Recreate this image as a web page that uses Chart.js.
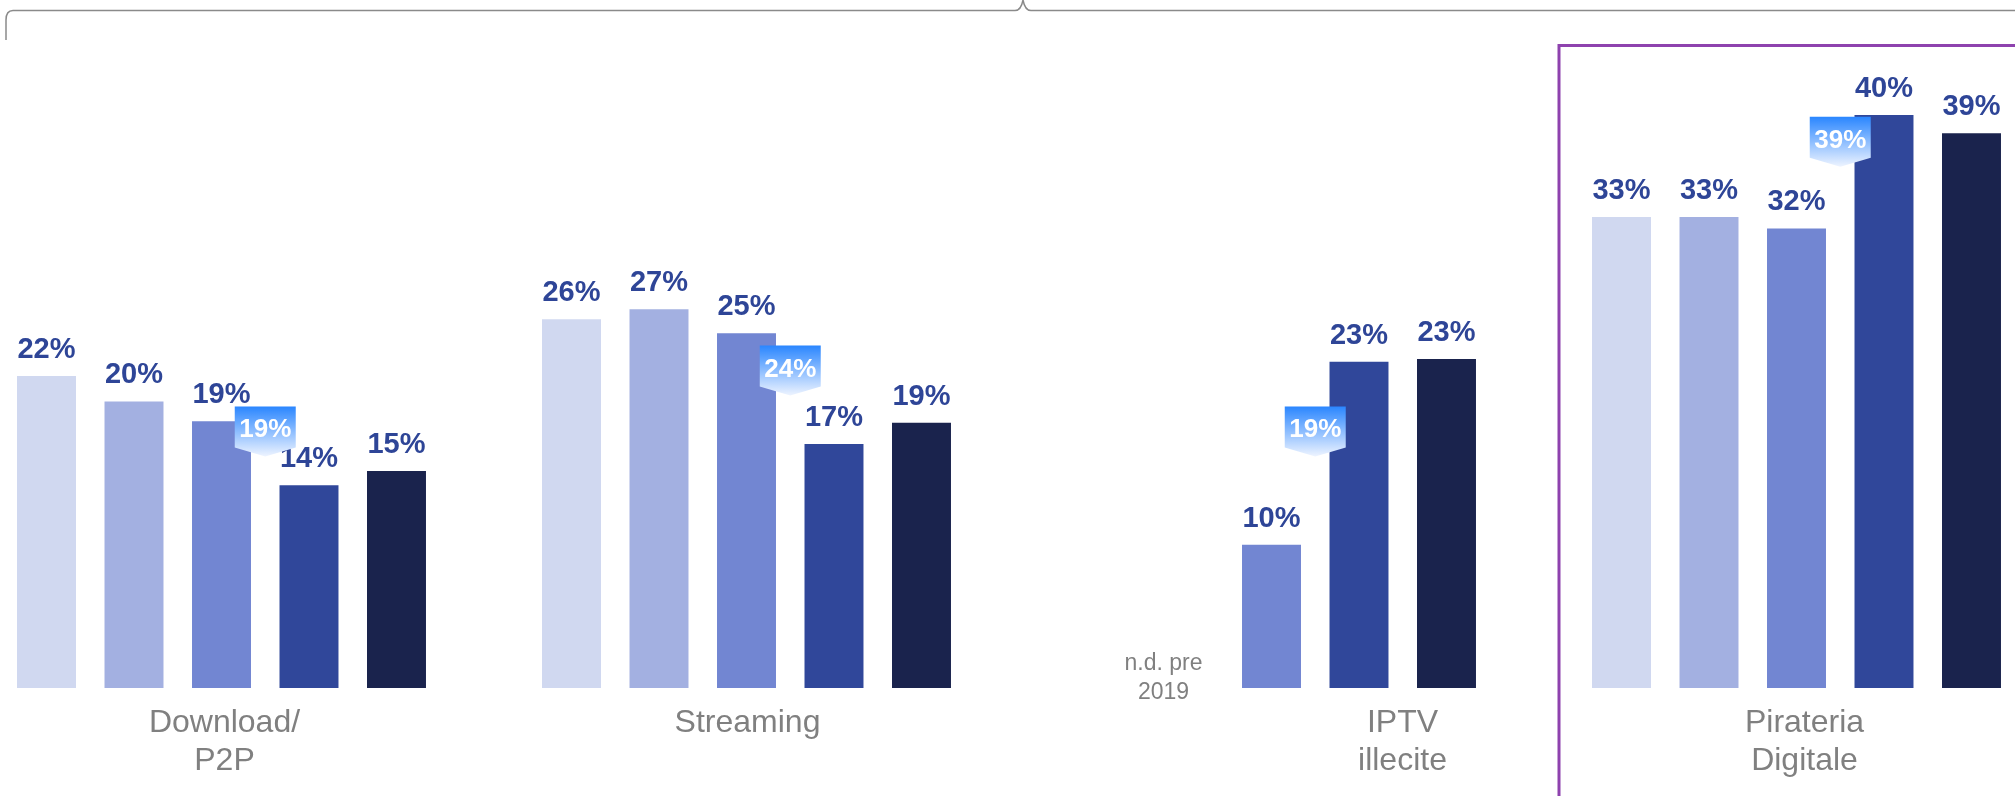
<!DOCTYPE html>
<html>
<head>
<meta charset="utf-8">
<script src="https://cdn.jsdelivr.net/npm/chart.js@4.4.1/dist/chart.umd.min.js"></script>
<style>
  html, body { margin: 0; padding: 0; background: #fff; overflow: hidden; }
  #wrap { position: absolute; left: -41px; top: 0; width: 2100px; height: 796px; }
</style>
</head>
<body>
<div id="wrap"><canvas id="myChart" width="2100" height="796"></canvas></div>
<script>
'use strict';
const categories = [['Download/', 'P2P'], ['Streaming'], ['IPTV', 'illecite'], ['Pirateria', 'Digitale']];
const seriesNames = ['S1', 'S2', 'S3', 'S4', 'S5'];
const s1 = [22.0, 26.0, null, 33.2];
const s2 = [20.2, 26.7, null, 33.2];
const s3 = [18.8, 25.0, 10.1, 32.4];
const s4 = [14.3, 17.2, 23.0, 40.4];
const s5 = [15.3, 18.7, 23.2, 39.1];
const callouts = [19, 24, 19, 39];
const noDataNote = ['n.d. pre', '2019'];

const colors = ['#D0D8F0', '#A3B0E1', '#7286D2', '#30479A', '#1A234D'];
const OFF = 41; // canvas starts 41px left of the page
const labelShift = [3, 1, 131, 8];         // category name x nudges
const calloutShift = [-12, -2, -12, -18];  // callout y nudges

// value labels above bars + blue callouts between 3rd and 4th bar
const barLabels = {
  id: 'barLabels',
  afterDatasetsDraw(chart) {
    const ctx = chart.ctx;
    const y = chart.scales.y;
    ctx.save();
    ctx.textAlign = 'center';
    ctx.textBaseline = 'alphabetic';
    ctx.font = 'bold 29px "Liberation Sans", Arial, sans-serif';
    ctx.fillStyle = '#2E4597';
    chart.data.datasets.forEach(function(ds, d) {
      const meta = chart.getDatasetMeta(d);
      meta.data.forEach(function(bar, i) {
        if (ds.data[i] === null) return;
        ctx.fillText(Math.round(ds.data[i]) + '%', bar.x, bar.y - 18);
      });
    });

    const m3 = chart.getDatasetMeta(2);
    const m4 = chart.getDatasetMeta(3);
    for (let i = 0; i < callouts.length; i++) {
      const cx = (m3.data[i].x + m4.data[i].x) / 2;
      const top = y.getPixelForValue(callouts[i]) + calloutShift[i];
      const w = 61, h = 41, tip = 9;
      const grad = ctx.createLinearGradient(0, top, 0, top + h + tip);
      grad.addColorStop(0, '#2A86FF');
      grad.addColorStop(1, '#EEF4FF');
      ctx.beginPath();
      ctx.moveTo(cx - w / 2, top);
      ctx.lineTo(cx + w / 2, top);
      ctx.lineTo(cx + w / 2, top + h);
      ctx.lineTo(cx, top + h + tip);
      ctx.lineTo(cx - w / 2, top + h);
      ctx.closePath();
      ctx.fillStyle = grad;
      ctx.fill();
      ctx.fillStyle = '#fff';
      ctx.font = 'bold 26px "Liberation Sans", Arial, sans-serif';
      ctx.fillText(callouts[i] + '%', cx, top + 31);
    }
    ctx.restore();
  },
  afterDraw(chart) {
    const ctx = chart.ctx;
    const x = chart.scales.x;
    ctx.save();
    // category names
    ctx.fillStyle = '#808080';
    ctx.textAlign = 'center';
    ctx.font = '32px "Liberation Sans", Arial, sans-serif';
    categories.forEach(function(lines, i) {
      const cx = x.getPixelForValue(i) + labelShift[i];
      lines.forEach(function(t, k) {
        ctx.fillText(t, cx, 732 + k * 38);
      });
    });
    // n.d. note in the IPTV group
    ctx.font = '23px "Liberation Sans", Arial, sans-serif';
    noDataNote.forEach(function(t, k) {
      ctx.fillText(t, x.getPixelForValue(2) - 108, 670 + k * 29);
    });

    // decorations in page coordinates
    ctx.translate(OFF, 0);
    ctx.strokeStyle = '#8A8A8A';
    ctx.lineWidth = 1.5;
    ctx.beginPath();
    ctx.moveTo(6, 40);
    ctx.lineTo(6, 20);
    ctx.quadraticCurveTo(6, 10.5, 13, 10.5);
    ctx.lineTo(1015, 10.5);
    ctx.quadraticCurveTo(1021, 10.5, 1023, 0);
    ctx.quadraticCurveTo(1025, 10.5, 1031, 10.5);
    ctx.lineTo(2030, 10.5);
    ctx.stroke();

    ctx.strokeStyle = '#8E42AE';
    ctx.lineWidth = 3;
    ctx.strokeRect(1559, 45.5, 600, 900);
    ctx.restore();
  }
};

function chartRender() {
  const ctx = document.getElementById('myChart').getContext('2d');
  const allSeries = [s1, s2, s3, s4, s5];
  new Chart(ctx, {
    type: 'bar',
    data: {
      labels: categories,
      datasets: allSeries.map(function(vals, i) {
        return {
          label: seriesNames[i],
          data: vals,
          backgroundColor: colors[i],
          borderWidth: 0,
          categoryPercentage: 0.8333,
          barPercentage: 0.674
        };
      })
    },
    options: {
      responsive: false,
      animation: false,
      devicePixelRatio: 1,
      layout: { padding: { top: 0, bottom: 108, left: 0, right: 0 } },
      plugins: { legend: { display: false }, tooltip: { enabled: false } },
      scales: {
        x: { display: false, grid: { display: false } },
        y: { display: false, min: 0, max: 48.5 }
      }
    },
    plugins: [barLabels]
  });
}
chartRender();
</script>
</body>
</html>
